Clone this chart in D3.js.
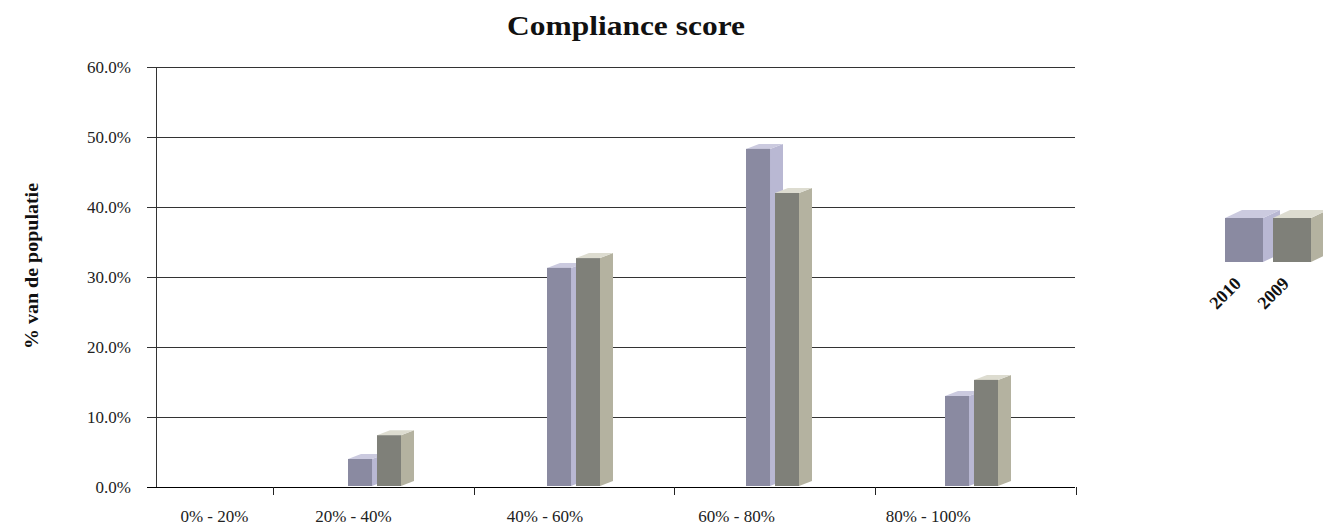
<!DOCTYPE html>
<html>
<head>
<meta charset="utf-8">
<script src="https://cdn.jsdelivr.net/npm/d3@7"></script>
<style>
  html, body { margin: 0; padding: 0; background: #ffffff; }
  svg { display: block; font-family: "Liberation Serif", "DejaVu Serif", serif; }
</style>
</head>
<body>
<svg id="chart" width="1323" height="529"></svg>
<script>
// Compliance score distribution, share of population per score bracket
const categories = ["0% - 20%", "20% - 40%", "40% - 60%", "60% - 80%", "80% - 100%"];
const seriesNames = ["2010", "2009"];
const values2010 = [0, 4.0, 31.3, 48.3, 13.0];
const values2009 = [0, 7.4, 32.7, 42.0, 15.3];
const yTicks = [0, 10, 20, 30, 40, 50, 60];

const seriesValues = { "2010": values2010, "2009": values2009 };

// face colours per series: front, side, top
const faceColors = {
  "2010": { front: "#8a8aa1", side: "#b9b8d3", top: "#cbcadf" },
  "2009": { front: "#7f8079", side: "#b4b2a0", top: "#dddcd0" }
};

const svg = d3.select("#chart");

const plot = { left: 156, right: 1075, top: 67, bottom: 487 };

const y = d3.scaleLinear().domain([0, 60]).range([plot.bottom, plot.top]);

// floor divisions (tick marks), column placement and label placement
// follow slightly different spans because of the 3D perspective
const xTick = d3.scaleBand().domain(categories).range([72, 1076]);
const xBar = d3.scaleBand().domain(categories).range([70, 1065]);
const xLabel = d3.scaleBand().domain(categories).range([66, 1024]);
const x1 = d3.scaleBand().domain(seriesNames)
  .range([79, 132]).paddingInner(0.172).paddingOuter(0);

const depth = { dx: 13, dy: 5 };

// gridlines
svg.append("g")
  .selectAll("line")
  .data(yTicks)
  .join("line")
  .attr("x1", plot.left - 9)
  .attr("x2", plot.right)
  .attr("y1", d => Math.round(y(d)) + 0.5)
  .attr("y2", d => Math.round(y(d)) + 0.5)
  .attr("stroke", d => d === 0 ? "#000" : "#333")
  .attr("stroke-width", 1);

// y axis line
svg.append("line")
  .attr("x1", plot.left + 0.5).attr("x2", plot.left + 0.5)
  .attr("y1", plot.top).attr("y2", plot.bottom)
  .attr("stroke", "#333");

// y tick labels
svg.append("g")
  .selectAll("text")
  .data(yTicks)
  .join("text")
  .attr("x", 131)
  .attr("y", d => y(d))
  .attr("dy", "0.35em")
  .attr("text-anchor", "end")
  .attr("font-size", 17)
  .attr("fill", "#222")
  .text(d => d3.format(".1f")(d) + "%");

// x tick marks at category boundaries
svg.append("g")
  .selectAll("line")
  .data(categories)
  .join("line")
  .attr("x1", c => Math.round(xTick(c) + xTick.bandwidth()) + 0.5)
  .attr("x2", c => Math.round(xTick(c) + xTick.bandwidth()) + 0.5)
  .attr("y1", plot.bottom)
  .attr("y2", plot.bottom + 8)
  .attr("stroke", "#222");

// x category labels; a label that would fall left of the wall is
// pushed to the middle of the visible part of its floor division
svg.append("g")
  .selectAll("text")
  .data(categories)
  .join("text")
  .attr("x", c => Math.max(
    xLabel(c) + xLabel.bandwidth() / 2,
    (plot.left + xTick(c) + xTick.bandwidth()) / 2))
  .attr("y", 522)
  .attr("text-anchor", "middle")
  .attr("font-size", 17)
  .attr("fill", "#222")
  .text(c => c);

// 3D column: right side face, top face and front rectangle
function drawColumn(g, xl, w, yTop, yBot, colors, dx, dy) {
  g.append("path")
    .attr("d", `M${xl + w},${yTop} L${xl + w + dx},${yTop - dy} L${xl + w + dx},${yBot - dy} L${xl + w},${yBot} Z`)
    .attr("fill", colors.side);
  g.append("path")
    .attr("d", `M${xl},${yTop} L${xl + dx},${yTop - dy} L${xl + w + dx},${yTop - dy} L${xl + w},${yTop} Z`)
    .attr("fill", colors.top);
  g.append("rect")
    .attr("x", xl).attr("y", yTop)
    .attr("width", w).attr("height", yBot - yTop)
    .attr("fill", colors.front);
}

const bars = svg.append("g");
categories.forEach((c, i) => {
  seriesNames.forEach(s => {
    const v = seriesValues[s][i];
    if (v <= 0) return;
    const xl = xBar(c) + x1(s);
    drawColumn(bars.append("g"), xl, x1.bandwidth(), y(v), plot.bottom - 1,
      faceColors[s], depth.dx, depth.dy);
  });
});

// title
svg.append("text")
  .attr("x", 626).attr("y", 35)
  .attr("text-anchor", "middle")
  .attr("font-size", 27)
  .attr("font-weight", "bold")
  .attr("fill", "#111")
  .attr("textLength", 238)
  .attr("lengthAdjust", "spacingAndGlyphs")
  .text("Compliance score");

// y axis title
svg.append("text")
  .attr("transform", "translate(38,266) rotate(-90)")
  .attr("text-anchor", "middle")
  .attr("font-size", 18)
  .attr("font-weight", "bold")
  .attr("fill", "#111")
  .attr("textLength", 166)
  .attr("lengthAdjust", "spacingAndGlyphs")
  .text("% van de populatie");

// legend: one cube per series with a slanted label beneath
const legendX = d3.scaleBand().domain(seriesNames).range([1225, 1311]).paddingInner(0.2083);
const legend = svg.append("g");
seriesNames.forEach(s => {
  const xl = legendX(s);
  const w = legendX.bandwidth();
  drawColumn(legend.append("g"), xl, w, 218, 262, faceColors[s], 17, 8);
  legend.append("text")
    .attr("transform", `translate(${xl + w / 2 - 19},${293}) rotate(-45)`)
    .attr("text-anchor", "middle")
    .attr("dy", "0.35em")
    .attr("font-size", 18)
    .attr("font-weight", "bold")
    .attr("fill", "#111")
    .text(s);
});
</script>
</body>
</html>
